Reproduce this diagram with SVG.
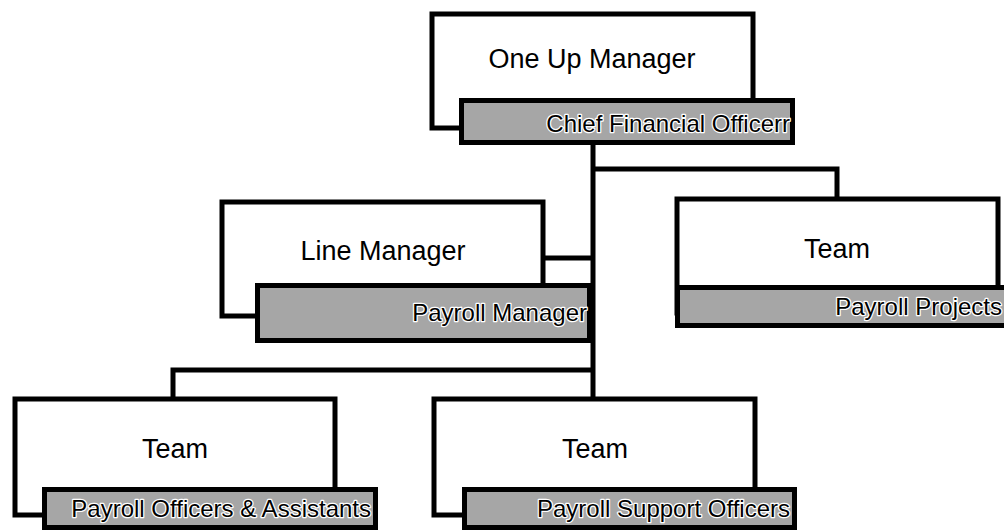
<svg xmlns="http://www.w3.org/2000/svg" width="1004" height="532" viewBox="0 0 1004 532">
<style>
.box{fill:#fff;stroke:#000;stroke-width:5}
.lab{fill:#a6a6a6;stroke:#000;stroke-width:5}
.t{font-family:"Liberation Sans",Arial,sans-serif;font-size:27px;fill:#000;text-anchor:middle}
.lt{font-family:"Liberation Sans",Arial,sans-serif;font-size:24px;fill:#000;text-anchor:end;stroke:#fff;stroke-width:2.5;paint-order:stroke;stroke-linejoin:round}
.c{fill:none;stroke:#000;stroke-width:5}
</style>
<rect width="1004" height="532" fill="#fff"/>
<g id="connectors">
<path class="c" d="M593 143V397"/>
<path class="c" d="M593 169H837V199"/>
<path class="c" d="M543 258H593"/>
<path class="c" d="M593 370H173V399"/>
</g>
<g id="one-up">
<rect class="box" x="432" y="14" width="321" height="114"/>
<text class="t" x="592" y="68">One Up Manager</text>
<rect class="lab" x="461.5" y="100.5" width="331" height="42"/>
<text class="lt" x="790" y="132">Chief Financial Officerr</text>
</g>
<g id="line-manager">
<rect class="box" x="222" y="202" width="321" height="114"/>
<text class="t" x="383" y="260">Line Manager</text>
<rect class="lab" x="257.5" y="285.5" width="332" height="55"/>
<text class="lt" x="587" y="321">Payroll Manager</text>
</g>
<g id="team-projects">
<rect class="box" x="677" y="199" width="321" height="114"/>
<text class="t" x="837" y="258">Team</text>
<rect class="lab" x="677.5" y="287.5" width="332" height="38"/>
<text class="lt" x="1002" y="315">Payroll Projects</text>
</g>
<g id="team-officers">
<rect class="box" x="15" y="399" width="320" height="116"/>
<text class="t" x="175" y="458">Team</text>
<rect class="lab" x="44.5" y="489.5" width="331" height="38"/>
<text class="lt" x="371" y="517">Payroll Officers &amp; Assistants</text>
</g>
<g id="team-support">
<rect class="box" x="434" y="399" width="321" height="116"/>
<text class="t" x="595" y="458">Team</text>
<rect class="lab" x="464.5" y="489.5" width="330" height="38"/>
<text class="lt" x="790" y="517">Payroll Support Officers</text>
</g>
</svg>
